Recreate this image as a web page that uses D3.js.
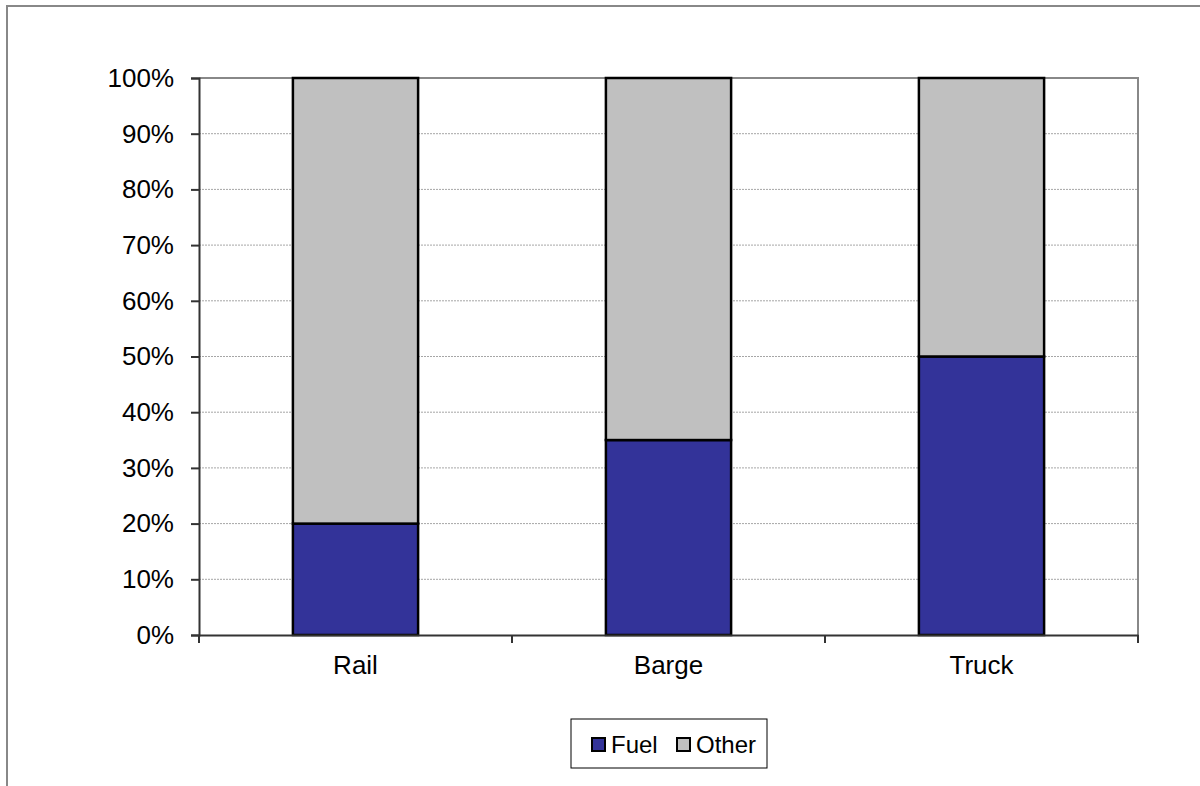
<!DOCTYPE html>
<html>
<head>
<meta charset="UTF-8">
<title>Fuel share by mode</title>
<script src="https://d3js.org/d3.v7.min.js"></script>
<style>
    body {margin: 0; background: white;}
    text {font-family: "Liberation Sans", Arial, sans-serif; fill: black;}
</style>
</head>
<body>
<div id="chart"></div>
<script>
    var categories = ["Rail", "Barge", "Truck"];
    var fuel = [20, 35, 50];
    var other = [80, 65, 50];
    var series = ["Fuel", "Other"];
    var colors = ["#333399", "#c0c0c0"];
    var yTicks = [0, 10, 20, 30, 40, 50, 60, 70, 80, 90, 100];

    var W = 1200, H = 786;
    var plot = {left: 199, top: 78, right: 1138, bottom: 635};

    var svg = d3.select("#chart").append("svg")
        .attr("width", W)
        .attr("height", H);

    // outer chart frame (runs off the bottom / right of the picture)
    svg.append("rect")
        .attr("x", 7).attr("y", 6)
        .attr("width", W + 20).attr("height", H + 20)
        .attr("fill", "white")
        .attr("stroke", "#888").attr("stroke-width", 2);

    var x = d3.scaleBand()
        .domain(categories)
        .range([plot.left, plot.right])
        .paddingInner(0.6).paddingOuter(0.3);

    var xOuter = d3.scaleBand()
        .domain(categories)
        .range([plot.left, plot.right]);

    var y = d3.scaleLinear()
        .domain([0, 100])
        .range([plot.bottom, plot.top]);

    // gridlines
    svg.append("g").selectAll("line")
        .data(yTicks.filter(function(d) {return d > 0 && d < 100;}))
        .enter().append("line")
        .attr("x1", plot.left).attr("x2", plot.right)
        .attr("y1", function(d) {return y(d);})
        .attr("y2", function(d) {return y(d);})
        .attr("stroke", "#a6a6a6")
        .attr("stroke-width", 1)
        .attr("stroke-dasharray", "2,1");

    // plot area border (top + right)
    svg.append("path")
        .attr("d", "M" + plot.left + "," + y(100) + "H" + plot.right + "V" + plot.bottom)
        .attr("fill", "none")
        .attr("stroke", "#888").attr("stroke-width", 2);

    // stacked bars
    var stack = categories.map(function(c, i) {
        return [{c: c, s: 0, y0: 0, y1: fuel[i]}, {c: c, s: 1, y0: fuel[i], y1: fuel[i] + other[i]}];
    });
    var flat = [].concat.apply([], stack);

    svg.append("g").selectAll("rect")
        .data(flat)
        .enter().append("rect")
        .attr("x", function(d) {return x(d.c);})
        .attr("width", x.bandwidth())
        .attr("y", function(d) {return y(d.y1);})
        .attr("height", function(d) {return y(d.y0) - y(d.y1);})
        .attr("fill", function(d) {return colors[d.s];})
        .attr("stroke", "black")
        .attr("stroke-width", 2.5);

    // y axis
    var yAxis = svg.append("g")
        .attr("transform", "translate(" + plot.left + ",0)")
        .call(d3.axisLeft(y).tickValues(yTicks).tickSize(8).tickPadding(17)
            .tickFormat(function(d) {return d + "%";}));
    yAxis.select(".domain").attr("stroke", "#333").attr("stroke-width", 2);
    yAxis.selectAll(".tick line").attr("stroke", "#333").attr("stroke-width", 2);
    yAxis.selectAll("text").style("font-size", "26px").attr("fill", "black")
        .style("font-family", "'Liberation Sans', Arial, sans-serif");

    // x axis
    var xAxis = svg.append("g")
        .attr("transform", "translate(0," + plot.bottom + ")")
        .call(d3.axisBottom(xOuter).tickSize(0).tickPadding(21));
    xAxis.select(".domain").attr("stroke", "#333").attr("stroke-width", 2);
    xAxis.selectAll("text").style("font-size", "26px").attr("fill", "black")
        .style("font-family", "'Liberation Sans', Arial, sans-serif");

    var bounds = categories.map(function(c) {return xOuter(c);}).concat([plot.right]);
    svg.append("g").selectAll("line")
        .data(bounds)
        .enter().append("line")
        .attr("x1", function(d) {return d;}).attr("x2", function(d) {return d;})
        .attr("y1", plot.bottom).attr("y2", plot.bottom + 8)
        .attr("stroke", "#333").attr("stroke-width", 2);

    // legend
    var legend = svg.append("g").attr("transform", "translate(571,719)");
    legend.append("rect")
        .attr("width", 196).attr("height", 49)
        .attr("fill", "white").attr("stroke", "black").attr("stroke-width", 1);

    var items = legend.selectAll(".item")
        .data(series)
        .enter().append("g")
        .attr("transform", function(d, i) {return "translate(" + [21, 106][i] + ",19)";});
    items.append("rect")
        .attr("width", 13).attr("height", 13)
        .attr("fill", function(d, i) {return colors[i];})
        .attr("stroke", "black").attr("stroke-width", 2);
    items.append("text")
        .attr("x", 19).attr("y", 15)
        .style("font-size", "24px")
        .text(function(d) {return d;});
</script>
</body>
</html>
